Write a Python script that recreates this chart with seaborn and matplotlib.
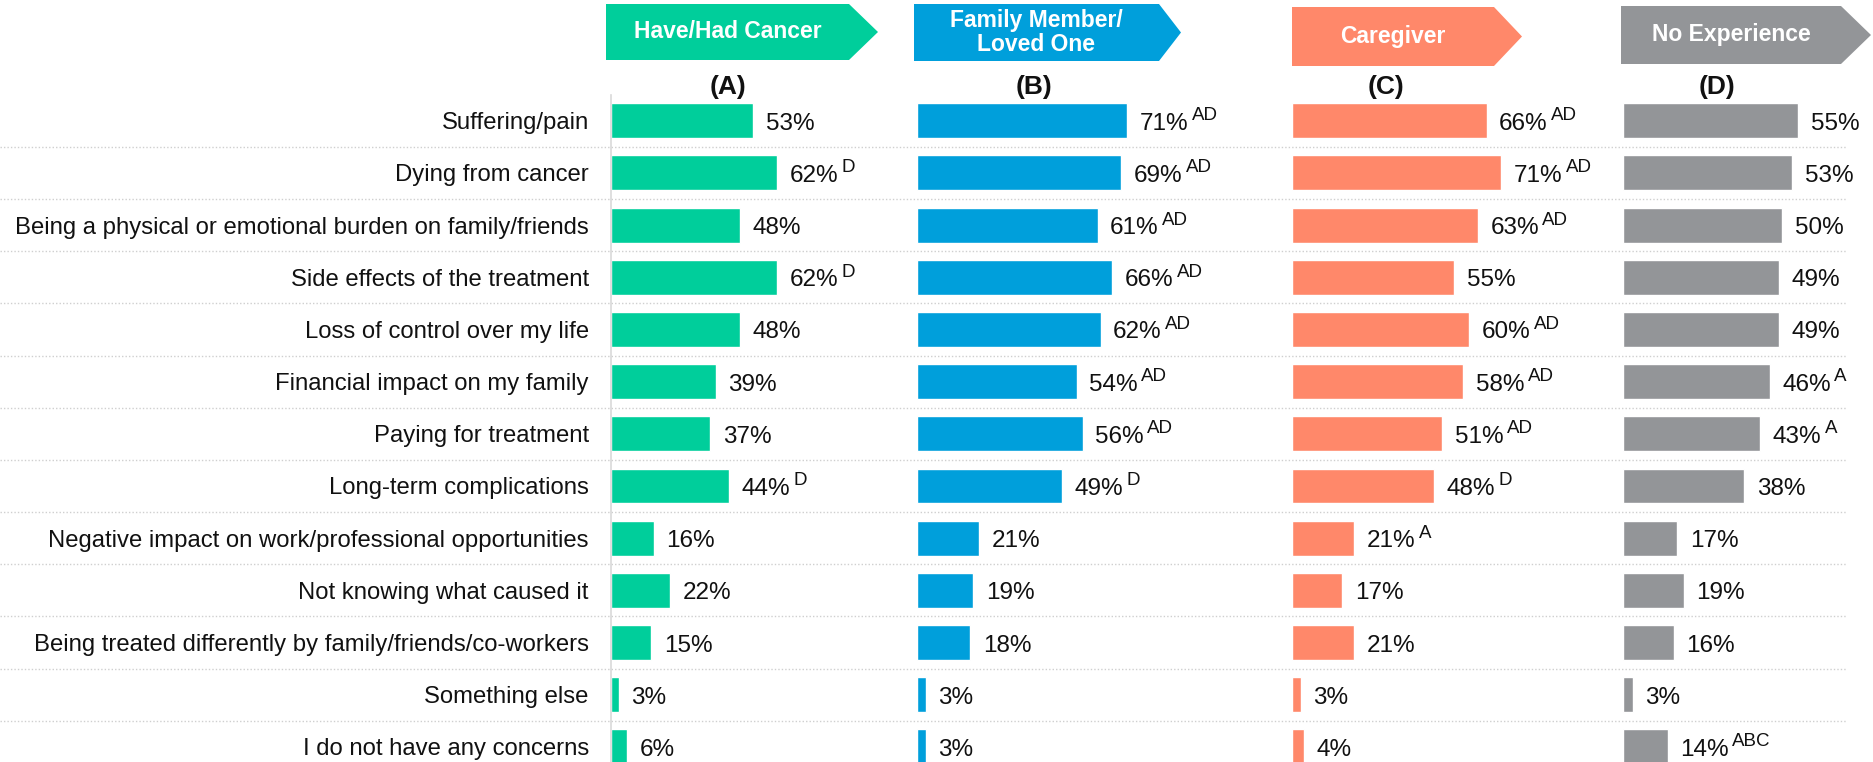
import matplotlib
matplotlib.use("Agg")
import matplotlib.pyplot as plt
from matplotlib.patches import Polygon
import numpy as np
import seaborn as sns

# ── data ─────────────────────────────────────────────────────
concerns = ["Suffering/pain", "Dying from cancer",
            "Being a physical or emotional burden on family/friends",
            "Side effects of the treatment", "Loss of control over my life",
            "Financial impact on my family", "Paying for treatment",
            "Long-term complications",
            "Negative impact on work/professional opportunities",
            "Not knowing what caused it",
            "Being treated differently by family/friends/co-workers",
            "Something else", "I do not have any concerns"]

have_cancer = [53, 62, 48, 62, 48, 39, 37, 44, 16, 22, 15, 3, 6]
family_member = [71, 69, 61, 66, 62, 54, 56, 49, 21, 19, 18, 3, 3]
caregiver = [66, 71, 63, 55, 60, 58, 51, 48, 21, 17, 21, 3, 4]
no_experience = [55, 53, 50, 49, 49, 46, 43, 38, 17, 19, 16, 3, 14]

sig_a = ["", "D", "", "D", "", "", "", "D", "", "", "", "", ""]
sig_b = ["AD", "AD", "AD", "AD", "AD", "AD", "AD", "D", "", "", "", "", ""]
sig_c = ["AD", "AD", "AD", "", "AD", "AD", "AD", "D", "A", "", "", "", ""]
sig_d = ["", "", "", "", "", "A", "A", "", "", "", "", "", "ABC"]

group_names = ["Have/Had Cancer", "Family Member/\nLoved One",
               "Caregiver", "No Experience"]
group_letters = ["(A)", "(B)", "(C)", "(D)"]

# ── style ────────────────────────────────────────────────────
sns.set_style("white")
plt.rcParams["font.family"] = ["Liberation Sans", "DejaVu Sans"]

GREEN, BLUE, SALMON, GREY = "#00CE9B", "#009FDB", "#FF886A", "#939598"
SEP = "#CFCFCF"

W, H = 1874, 762
fig = plt.figure(figsize=(W / 100, H / 100), dpi=100)

def fx(px):
    return px / W

def fy(py):
    return 1 - py / H

# axes vertical extent (pixels from top)
top_px, bot_px = 94.6, 773
ax_bottom = fy(bot_px)
ax_height = (bot_px - top_px) / H
n = len(concerns)

# ── background: dotted separators ────────────────────────────
ax_bg = fig.add_axes([0, ax_bottom, 1, ax_height], zorder=0)
ax_bg.set_xlim(0, W)
ax_bg.set_ylim(n - 0.5, -0.5)
ax_bg.axis("off")
ax_bg.hlines(np.arange(n - 1) + 0.5, 0, 1846, colors=SEP,
             linestyles=(0, (1, 1.5)), linewidth=1)

# ── panels ───────────────────────────────────────────────────
# (values, sig letters, colour, left px, width px, px per %)
panels = [(have_cancer, sig_a, GREEN, 611, 280, 2.68),
          (family_member, sig_b, BLUE, 917, 340, 2.96),
          (caregiver, sig_c, SALMON, 1292, 300, 2.95),
          (no_experience, sig_d, GREY, 1623, 240, 3.19)]

for k, (vals, sigs, col, left, width, scale) in enumerate(panels):
    ax = fig.add_axes([fx(left), ax_bottom, fx(width), ax_height], zorder=2)
    ax.patch.set_visible(False)
    sns.barplot(x=vals, y=concerns, orient="h", color=col,
                saturation=1, width=0.67, ax=ax)
    ax.set_xlim(0, width / scale)
    ax.set_ylim(n - 0.5, -0.5)
    ax.set_xlabel("")
    ax.set_ylabel("")
    ax.set_xticks([])
    for s in ax.spines.values():
        s.set_visible(False)

    if k == 0:
        ax.spines["left"].set_visible(True)
        ax.spines["left"].set_color("#D9D9D9")
        ax.spines["left"].set_linewidth(1.2)
        ax.set_yticks(range(n))
        ax.set_yticklabels(concerns, fontsize=17.2, color="#111111")
        ax.tick_params(axis="y", which="major", length=0, pad=16)
        ax.set_yticks(np.arange(n + 1) - 0.5, minor=True)
        ax.tick_params(axis="y", which="minor", length=5,
                       color="#D9D9D9", width=1.2)
    else:
        ax.set_yticks([])

    for i, (v, s) in enumerate(zip(vals, sigs)):
        txt = ax.annotate(f"{v}%", xy=(v, i), xytext=(9, -6.5),
                          textcoords="offset points", ha="left",
                          va="baseline", fontsize=17.5, color="#111111",
                          annotation_clip=False)
        if s:
            # significance letters, raised after the value
            ax.annotate(s, xy=(1, 1), xycoords=txt, xytext=(2.5, 4),
                        textcoords="offset points", ha="left", va="top",
                        fontsize=13.5, color="#111111",
                        annotation_clip=False)

# ── header arrows ────────────────────────────────────────────
# (x start, rect end, tip, y top, y bottom) in pixels
arrows = [(606, 849, 878, 4, 60),
          (914, 1159, 1181, 4, 61),
          (1292, 1494, 1522, 7, 66),
          (1621, 1841, 1871, 6, 64)]
letter_x = [728, 1034, 1386, 1717]
colours = [GREEN, BLUE, SALMON, GREY]

for (x0, x1, xt, y0, y1), name, letter, lx, col in zip(
        arrows, group_names, group_letters, letter_x, colours):
    ym = (y0 + y1) / 2
    pts = [(fx(x0), fy(y0)), (fx(x1), fy(y0)), (fx(xt), fy(ym)),
           (fx(x1), fy(y1)), (fx(x0), fy(y1))]
    fig.patches.append(Polygon(pts, closed=True, facecolor=col,
                               edgecolor="none",
                               transform=fig.transFigure))
    fig.text(fx((x0 + x1) / 2), fy(ym), name, ha="center", va="center",
             color="white", fontsize=16.5, fontweight="bold",
             linespacing=1.1)
    fig.text(fx(lx), fy(87), letter, ha="center", va="center",
             color="#111111", fontsize=19, fontweight="bold")

fig.savefig("out.png", dpi=100)
